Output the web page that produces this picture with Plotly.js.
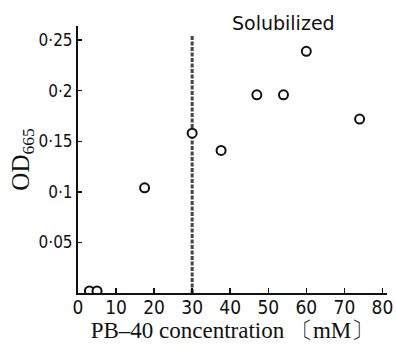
<!DOCTYPE html>
<html>
<head>
<meta charset="utf-8">
<script src="https://cdn.plot.ly/plotly-3.0.1.min.js"></script>
<style>html,body{margin:0;padding:0;background:#fff;}#chart{width:397px;height:349px;}</style>
</head>
<body>
<div id="chart"></div>
<script>
// Data
const concentration = [3, 5, 17.5, 30, 37.6, 47, 54, 60, 74];
const od665 = [0.002, 0.002, 0.104, 0.158, 0.141, 0.196, 0.196, 0.239, 0.172];
const xTickVals = [0, 10, 20, 30, 40, 50, 60, 70, 80];
const xTickText = ["0", "10", "20", "30", "40", "50", "60", "70", "80"];
const yTickVals = [0.05, 0.1, 0.15, 0.2, 0.25];
const yTickText = ["0·05", "0·1", "0·15", "0·2", "0·25"];
const solubilizationPoint = 30;   // dashed vertical line
const dashedLineTop = 0.255;
const regionLabel = "Solubilized";

const trace = {
  x: concentration,
  y: od665,
  type: 'scatter',
  mode: 'markers',
  cliponaxis: true,
  marker: {symbol: 'circle', size: 9, color: '#ffffff', line: {color: '#111111', width: 2}},
  hoverinfo: 'skip'
};

const layout = {
  width: 397, height: 349,
  margin: {l: 78, r: 10, t: 26, b: 56},
  paper_bgcolor: '#ffffff', plot_bgcolor: '#ffffff',
  showlegend: false,
  font: {family: 'DejaVu Sans, sans-serif', color: '#111111'},
  xaxis: {
    range: [0, 81.2],
    tickvals: xTickVals, ticktext: xTickText,
    ticks: 'inside', ticklen: 5, tickwidth: 1.5, tickcolor: '#111',
    ticklabelstandoff: -4,
    showline: true, linecolor: '#111', linewidth: 2,
    showgrid: false, zeroline: false,
    tickfont: {family: 'DejaVu Sans Condensed, DejaVu Sans, sans-serif', size: 19, color: '#111'},
    title: {text: 'PB–40 concentration 〔mM〕', font: {family: 'Liberation Serif, serif', size: 23, color: '#111'}, standoff: 0}
  },
  yaxis: {
    range: [0, 0.264],
    tickvals: yTickVals, ticktext: yTickText,
    ticks: 'inside', ticklen: 4, tickwidth: 1.5, tickcolor: '#111',
    showline: true, linecolor: '#111', linewidth: 2,
    showgrid: false, zeroline: false,
    tickfont: {family: 'DejaVu Sans Condensed, DejaVu Sans, sans-serif', size: 17, color: '#111'},
    title: {text: 'OD<sub>665</sub>', font: {family: 'Liberation Serif, serif', size: 25, color: '#111'}, standoff: 2}
  },
  shapes: [{
    type: 'line', xref: 'x', yref: 'y', layer: 'below',
    x0: solubilizationPoint, x1: solubilizationPoint, y0: 0, y1: dashedLineTop,
    line: {color: '#444', width: 3, dash: '4px,1.5px'}
  }],
  annotations: [{
    xref: 'paper', yref: 'paper', x: 0.665, y: 1.011, xanchor: 'center', yanchor: 'middle',
    text: regionLabel, showarrow: false,
    font: {family: 'DejaVu Sans, sans-serif', size: 19, color: '#111'}
  }]
};

Plotly.newPlot('chart', [trace], layout, {staticPlot: true, displayModeBar: false});
</script>
</body>
</html>
